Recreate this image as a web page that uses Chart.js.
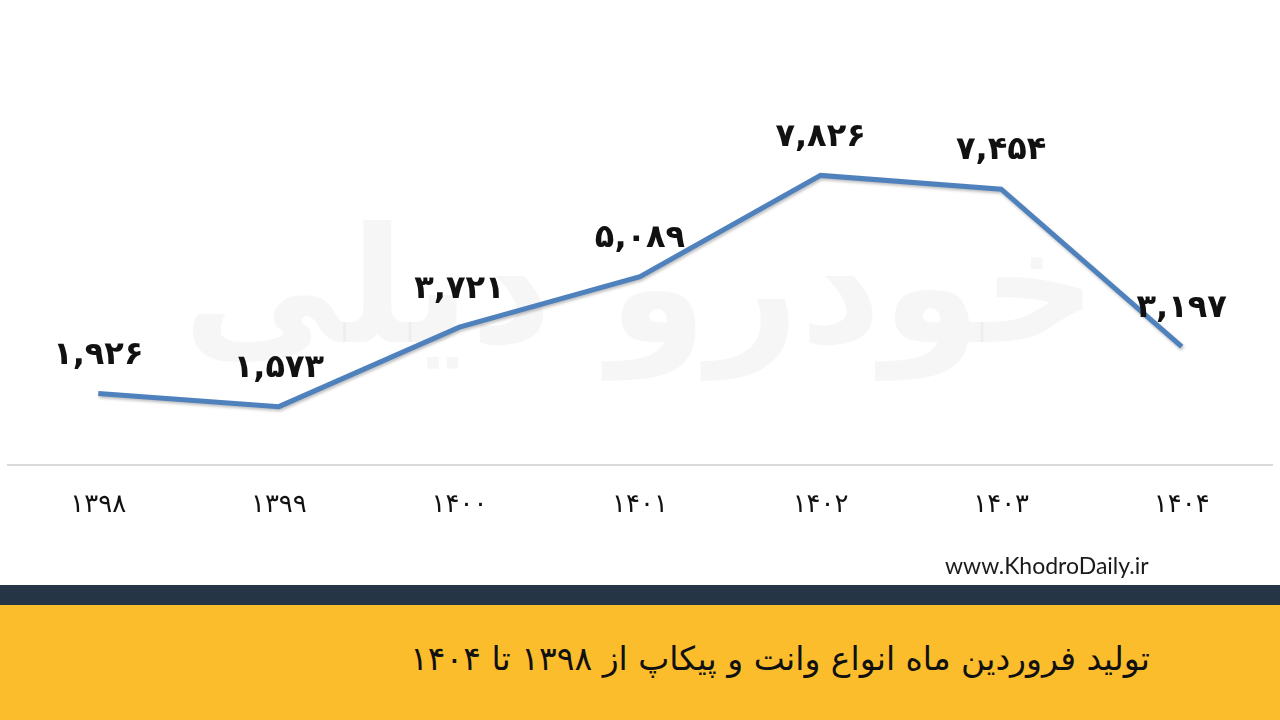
<!DOCTYPE html>
<html>
<head>
<meta charset="utf-8">
<script src="https://cdn.jsdelivr.net/npm/chart.js@4.4.0/dist/chart.umd.min.js"></script>
<style>
  html, body { margin: 0; padding: 0; background: #fff; }
  body { width: 1280px; height: 720px; position: relative; overflow: hidden; }
  #wrap { position: absolute; left: 0; top: 0; width: 1280px; height: 585px; }
  #site { position: absolute; left: 945px; top: 551px; font: 23px Lato, sans-serif; color: #1a1a1a; }
  #darkbar { position: absolute; left: 0; top: 585px; width: 1280px; height: 20px; background: #263545; }
  #yellow { position: absolute; left: 0; top: 605px; width: 1280px; height: 115px; background: #fbbd2c; }
  #title { position: absolute; right: 130px; top: 639px; direction: rtl; font: 33px "DejaVu Sans", sans-serif; color: #111; }
</style>
</head>
<body>
<div id="wrap"><canvas id="chart" width="1280" height="585"></canvas></div>
<div id="site">www.KhodroDaily.ir</div>
<div id="darkbar"></div>
<div id="yellow"></div>
<div id="title">تولید فروردین ماه انواع وانت و پیکاپ از ۱۳۹۸ تا ۱۴۰۴</div>
<script>
// data
const years  = ['۱۳۹۸', '۱۳۹۹', '۱۴۰۰', '۱۴۰۱', '۱۴۰۲', '۱۴۰۳', '۱۴۰۴'];
const output = [1926, 1573, 3721, 5089, 7826, 7454, 3197];

function faNum(n) {
  const d = '۰۱۲۳۴۵۶۷۸۹';
  return n.toString().replace(/\B(?=(\d{3})+(?!\d))/g, ',').replace(/\d/g, c => d[c]);
}

// faint watermark behind the plot
const watermark = {
  id: 'watermark',
  beforeDraw(chart) {
    const ctx = chart.ctx;
    ctx.save();
    ctx.fillStyle = 'rgba(0,0,0,0.035)';
    ctx.font = 'bold 160px "DejaVu Sans"';
    ctx.textAlign = 'center';
    ctx.textBaseline = 'middle';
    ctx.fillText('خودرو دیلی', 640, 300);
    ctx.restore();
  }
};

// value labels above each point
const valueLabels = {
  id: 'valueLabels',
  afterDatasetsDraw(chart) {
    const ctx = chart.ctx;
    const meta = chart.getDatasetMeta(0);
    ctx.save();
    ctx.fillStyle = '#111';
    ctx.font = 'bold 32px "DejaVu Sans"';
    ctx.textAlign = 'center';
    ctx.textBaseline = 'middle';
    meta.data.forEach((pt, i) => {
      ctx.fillText(faNum(output[i]), pt.x, pt.y - 38);
    });
    ctx.restore();
  }
};

// soft shadow under the line
const lineShadow = {
  id: 'lineShadow',
  beforeDatasetDraw(chart) {
    const ctx = chart.ctx;
    ctx.save();
    ctx.shadowColor = 'rgba(0,0,0,0.25)';
    ctx.shadowBlur = 3;
    ctx.shadowOffsetX = 1;
    ctx.shadowOffsetY = 2;
  },
  afterDatasetDraw(chart) {
    chart.ctx.restore();
  }
};

new Chart(document.getElementById('chart').getContext('2d'), {
  type: 'line',
  data: {
    labels: years,
    datasets: [{
      data: output,
      borderColor: '#4f81bd',
      borderWidth: 5,
      pointRadius: 0,
      tension: 0,
      fill: false
    }]
  },
  options: {
    responsive: false,
    animation: false,
    layout: { padding: { top: 95, left: 8, right: 8, bottom: 47 } },
    plugins: { legend: { display: false }, tooltip: { enabled: false } },
    scales: {
      x: {
        offset: true,
        grid: { display: false },
        border: { display: true, color: '#d9d9d9', width: 2 },
        ticks: { color: '#111', font: { family: 'DejaVu Sans', size: 26 }, padding: 17 }
      },
      y: {
        display: false,
        min: 0,
        max: 10000
      }
    }
  },
  plugins: [watermark, lineShadow, valueLabels]
});
</script>
</body>
</html>
